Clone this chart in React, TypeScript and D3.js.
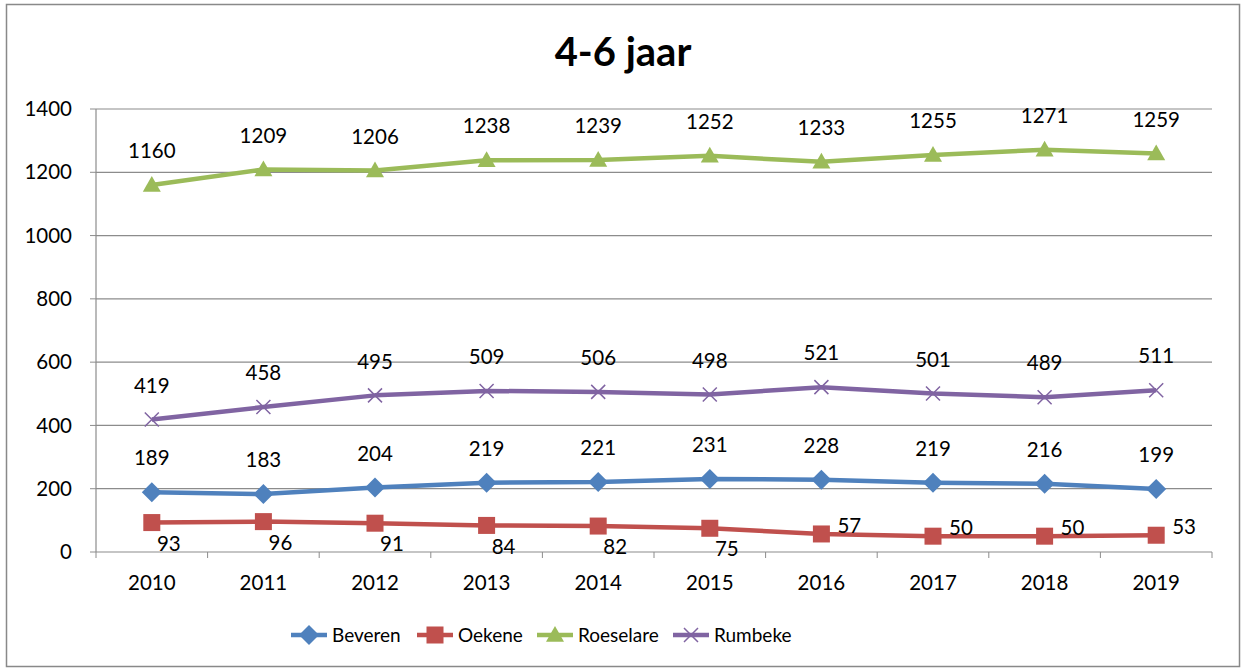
import React from "react";
import * as d3 from "d3";

const years = ["2010", "2011", "2012", "2013", "2014", "2015", "2016", "2017", "2018", "2019"];
const beveren = [189, 183, 204, 219, 221, 231, 228, 219, 216, 199];
const oekene = [93, 96, 91, 84, 82, 75, 57, 50, 50, 53];
const roeselare = [1160, 1209, 1206, 1238, 1239, 1252, 1233, 1255, 1271, 1259];
const rumbeke = [419, 458, 495, 509, 506, 498, 521, 501, 489, 511];
const yTicks = [0, 200, 400, 600, 800, 1000, 1200, 1400];
// where Excel put the Oekene labels
const oekenePos = ["below", "below", "below", "below", "below", "below", "right", "right", "right", "right"];

const series = [
  { name: "Beveren", values: beveren, color: "#4F81BD", marker: "diamond" },
  { name: "Oekene", values: oekene, color: "#C0504D", marker: "square" },
  { name: "Roeselare", values: roeselare, color: "#9BBB59", marker: "triangle" },
  { name: "Rumbeke", values: rumbeke, color: "#8064A2", marker: "x" },
];

const W = 1243;
const H = 670;
const margin = { top: 109, right: 31, bottom: 118, left: 96 };
const font = "Lato, 'Open Sans', sans-serif";

function Marker({ type, x, y, color }: { type: string; x: number; y: number; color: string }) {
  if (type === "diamond") {
    const r = 10;
    return <path d={`M${x},${y - r}L${x + r},${y}L${x},${y + r}L${x - r},${y}Z`} fill={color} />;
  }
  if (type === "square") {
    const r = 8.5;
    return <rect x={x - r} y={y - r} width={r * 2} height={r * 2} fill={color} />;
  }
  if (type === "triangle") {
    const r = 9;
    return <path d={`M${x},${y - r}L${x + r},${y + r * 0.75}L${x - r},${y + r * 0.75}Z`} fill={color} />;
  }
  const r = 7;
  return (
    <path
      d={`M${x - r},${y - r}L${x + r},${y + r}M${x - r},${y + r}L${x + r},${y - r}`}
      stroke={color}
      strokeWidth={1.5}
      fill="none"
    />
  );
}

export default function App() {
  const plotW = W - margin.left - margin.right;
  const plotH = H - margin.top - margin.bottom;

  const xScale = d3.scaleBand().domain(years).range([margin.left, margin.left + plotW]);
  const yScale = d3.scaleLinear().domain([0, 1400]).range([margin.top + plotH, margin.top]);
  const cx = (y: string) => (xScale(y) as number) + xScale.bandwidth() / 2;

  const line = d3
    .line<number>()
    .x((_, i) => cx(years[i]))
    .y((d) => yScale(d));

  const legendX = [291, 417, 537, 673];

  return (
    <svg width={W} height={H} style={{ position: "absolute", left: 0, top: 0 }} fontFamily={font}>
      <rect x={0} y={0} width={W} height={H} fill="#fff" />
      <rect x={6.5} y={4.5} width={1233} height={662} fill="none" stroke="#898989" strokeWidth={1.5} />

      <text x={623} y={66} textAnchor="middle" fontSize={40} fontWeight="bold">
        4-6 jaar
      </text>

      {yTicks.map((t) => (
        <g key={t}>
          {t > 0 && (
            <line x1={margin.left} x2={margin.left + plotW} y1={yScale(t)} y2={yScale(t)} stroke="#8c8c8c" strokeWidth={1.2} />
          )}
          <line x1={margin.left - 6} x2={margin.left} y1={yScale(t)} y2={yScale(t)} stroke="#8c8c8c" />
          <text x={72} y={yScale(t)} dy="0.35em" textAnchor="end" fontSize={20.5}>
            {t}
          </text>
        </g>
      ))}
      <line x1={margin.left} x2={margin.left} y1={margin.top} y2={margin.top + plotH} stroke="#8c8c8c" strokeWidth={1.2} />
      <line
        x1={margin.left}
        x2={margin.left + plotW}
        y1={margin.top + plotH}
        y2={margin.top + plotH}
        stroke="#8c8c8c"
        strokeWidth={1.2}
      />
      {years.map((y, i) => (
        <g key={y}>
          <line
            x1={xScale(y) as number}
            x2={xScale(y) as number}
            y1={margin.top + plotH}
            y2={margin.top + plotH + 6}
            stroke="#8c8c8c"
          />
          {i === years.length - 1 && (
            <line x1={margin.left + plotW} x2={margin.left + plotW} y1={margin.top + plotH} y2={margin.top + plotH + 6} stroke="#8c8c8c" />
          )}
          <text x={cx(y)} y={583} dy="0.35em" textAnchor="middle" fontSize={20.5}>
            {y}
          </text>
        </g>
      ))}

      {series.map((s) => (
        <g key={s.name}>
          <path d={line(s.values) || ""} fill="none" stroke={s.color} strokeWidth={4.5} strokeLinejoin="round" />
          {s.values.map((v, i) => (
            <Marker key={i} type={s.marker} x={cx(years[i])} y={yScale(v)} color={s.color} />
          ))}
          {s.values.map((v, i) => {
            const px = cx(years[i]);
            const py = yScale(v);
            if (s.name === "Oekene") {
              const pos = oekenePos[i];
              return pos === "right" ? (
                <text key={i} x={px + 16} y={py - 8} dy="0.35em" fontSize={20.5}>
                  {v}
                </text>
              ) : (
                <text key={i} x={px + 17} y={py + 21} dy="0.35em" textAnchor="middle" fontSize={20.5}>
                  {v}
                </text>
              );
            }
            return (
              <text key={i} x={px} y={py - 34} dy="0.35em" textAnchor="middle" fontSize={20.5}>
                {v}
              </text>
            );
          })}
        </g>
      ))}

      {series.map((s, i) => (
        <g key={s.name}>
          <line x1={legendX[i]} x2={legendX[i] + 36} y1={635} y2={635} stroke={s.color} strokeWidth={4.5} />
          <Marker type={s.marker} x={legendX[i] + 18} y={635} color={s.color} />
          <text x={legendX[i] + 41} y={635} dy="0.35em" fontSize={19}>
            {s.name}
          </text>
        </g>
      ))}
    </svg>
  );
}
